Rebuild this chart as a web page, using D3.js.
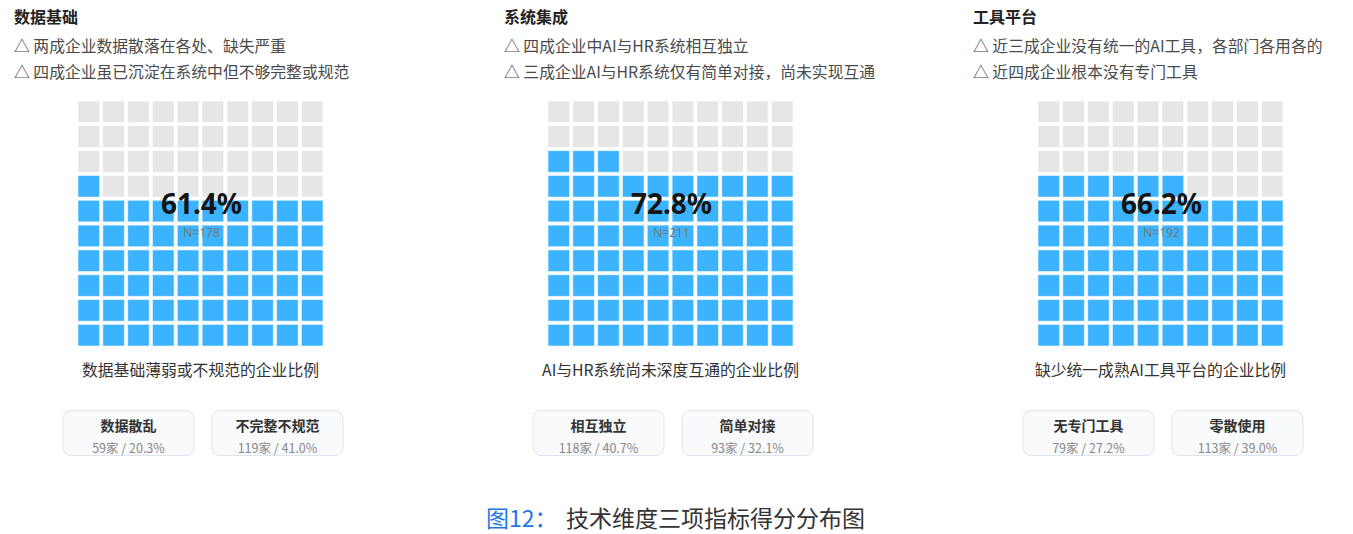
<!DOCTYPE html>
<html>
<head>
<meta charset="utf-8">
<script src="https://cdn.jsdelivr.net/npm/d3@7"></script>
<style>
  html, body { margin: 0; padding: 0; background: #fff; }
  svg { display: block; font-family: "Noto Sans CJK SC", "Noto Sans", sans-serif; }
</style>
</head>
<body>
<svg id="chart" width="1353" height="534"></svg>
<script>
"use strict";

// chart data
const panelTitles = ["数据基础", "系统集成", "工具平台"];
const notesFirst = [
    "△ 两成企业数据散落在各处、缺失严重",
    "△ 四成企业中AI与HR系统相互独立",
    "△ 近三成企业没有统一的AI工具，各部门各用各的"
];
const notesSecond = [
    "△ 四成企业虽已沉淀在系统中但不够完整或规范",
    "△ 三成企业AI与HR系统仅有简单对接，尚未实现互通",
    "△ 近四成企业根本没有专门工具"
];
const rates = [61.4, 72.8, 66.2];
const sampleN = [178, 211, 192];
const captions = [
    "数据基础薄弱或不规范的企业比例",
    "AI与HR系统尚未深度互通的企业比例",
    "缺少统一成熟AI工具平台的企业比例"
];
const subLabels = [["数据散乱", "不完整不规范"], ["相互独立", "简单对接"], ["无专门工具", "零散使用"]];
const subCounts = [[59, 119], [118, 93], [79, 113]];
const subShares = [[20.3, 41.0], [40.7, 32.1], [27.2, 39.0]];
const figLabel = "图12：";
const figTitle = "技术维度三项指标得分分布图";


// layout
const titleLeft = [14, 504, 973],
      gridLeft = [78, 548, 1038],
      gridTop = 101,
      gridSize = 245;

const svg = d3.select("#chart");

const cellScale = d3.scaleBand()
    .domain(d3.range(10))
    .range([0, gridSize])
    .paddingInner(0.13);

const boxScale = d3.scaleBand()
    .domain([0, 1])
    .range([-15, 265])
    .paddingInner(0.121);


panelTitles.forEach((title, i) => {

    const g = svg.append("g");

    // heading + notes
    g.append("text")
        .attr("x", titleLeft[i])
        .attr("y", 17)
        .attr("dy", "0.35em")
        .attr("font-size", 16)
        .attr("font-weight", 700)
        .attr("fill", "#222")
        .text(title);

    [notesFirst[i], notesSecond[i]].forEach((t, k) => {
        g.append("text")
            .attr("x", titleLeft[i])
            .attr("y", 46 + k * 26.5)
            .attr("dy", "0.35em")
            .attr("font-size", 15.8)
            .attr("fill", "#4a4a4a")
            .text(t);
    });

    // waffle, filled from the bottom row, left to right
    const filled = Math.round(rates[i]);
    const cells = d3.range(100).map(idx => ({
        col: idx % 10,
        row: 9 - Math.floor(idx / 10),
        on: idx < filled
    }));

    const grid = g.append("g")
        .attr("transform", `translate(${gridLeft[i]},${gridTop})`);

    grid.selectAll("rect")
        .data(cells)
        .join("rect")
            .attr("x", d => cellScale(d.col))
            .attr("y", d => cellScale(d.row))
            .attr("width", cellScale.bandwidth())
            .attr("height", cellScale.bandwidth())
            .attr("fill", d => d.on ? "#3bb3ff" : "#e6e6e6")
            .attr("stroke", "rgba(255,255,255,0.55)")
            .attr("stroke-width", 1);

    grid.append("text")
        .attr("x", gridSize / 2 + 1)
        .attr("y", 103)
        .attr("dy", "0.35em")
        .attr("text-anchor", "middle")
        .attr("font-family", "'Noto Sans', 'Open Sans', sans-serif")
        .attr("font-size", 28)
        .attr("font-weight", 700)
        .attr("fill", "#151515")
        .text(rates[i].toFixed(1) + "%");

    grid.append("text")
        .attr("x", gridSize / 2 + 1)
        .attr("y", 131.5)
        .attr("dy", "0.35em")
        .attr("text-anchor", "middle")
        .attr("font-family", "'Noto Sans', 'Open Sans', sans-serif")
        .attr("font-size", 12)
        .attr("fill", "#777")
        .text("N=" + sampleN[i]);

    grid.append("text")
        .attr("x", gridSize / 2)
        .attr("y", 269)
        .attr("dy", "0.35em")
        .attr("text-anchor", "middle")
        .attr("font-size", 15.8)
        .attr("fill", "#333")
        .text(captions[i]);

    // breakdown boxes
    const boxes = grid.selectAll("g.box")
        .data([0, 1])
        .join("g")
            .attr("class", "box")
            .attr("transform", k => `translate(${boxScale(k)},${309.5})`);

    boxes.append("rect")
        .attr("width", boxScale.bandwidth())
        .attr("height", 45)
        .attr("rx", 8)
        .attr("ry", 8)
        .attr("fill", "#f8fafc")
        .attr("stroke", "#dfe5ee");

    boxes.append("text")
        .attr("x", boxScale.bandwidth() / 2)
        .attr("y", 16)
        .attr("dy", "0.35em")
        .attr("text-anchor", "middle")
        .attr("font-size", 14)
        .attr("font-weight", 700)
        .attr("fill", "#333")
        .text(k => subLabels[i][k]);

    boxes.append("text")
        .attr("x", boxScale.bandwidth() / 2)
        .attr("y", 38)
        .attr("dy", "0.35em")
        .attr("text-anchor", "middle")
        .attr("font-size", 12.5)
        .attr("fill", "#888")
        .text(k => subCounts[i][k] + "家 / " + subShares[i][k].toFixed(1) + "%");

});


// figure caption
const fig = svg.append("text")
    .attr("x", 486)
    .attr("y", 519)
    .attr("dy", "0.35em")
    .attr("font-size", 23);

fig.append("tspan")
    .attr("fill", "#1f78e6")
    .text(figLabel);

fig.append("tspan")
    .attr("x", 566)
    .attr("fill", "#333")
    .text(figTitle);

</script>
</body>
</html>
